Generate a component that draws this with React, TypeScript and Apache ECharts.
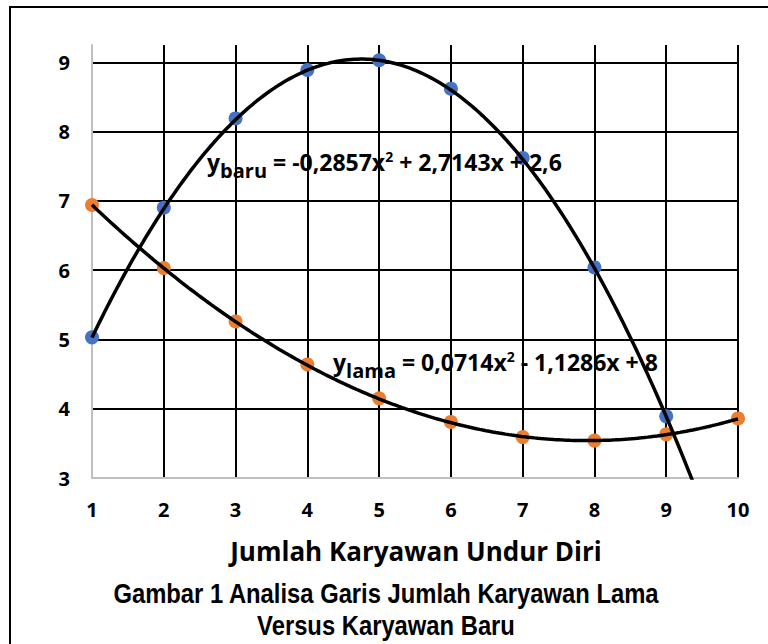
import React, { useEffect, useRef } from "react";
import * as echarts from "echarts";

const xTicks = [1, 2, 3, 4, 5, 6, 7, 8, 9, 10];
const yTicks = [3, 4, 5, 6, 7, 8, 9];
const baruValues = [5.03, 6.9, 8.19, 8.89, 9.03, 8.62, 7.62, 6.04, 3.89];
const lamaValues = [6.94, 6.03, 5.26, 4.64, 4.15, 3.81, 3.59, 3.54, 3.63, 3.86];
// trendline coefficients [a, b, c] for y = a x^2 + b x + c (as printed on the chart)
const baruCoef = [-0.2857, 2.7143, 2.6];
const lamaCoef = [0.0714, -1.1286, 8];
const xAxisTitle = "Jumlah Karyawan Undur Diri";
const captionLines = ["Gambar 1 Analisa Garis Jumlah Karyawan Lama", "Versus Karyawan Baru"];

const BLUE = "#4472C4";
const ORANGE = "#ED7D31";
const FONT = "'Open Sans', Lato, sans-serif";
const CAPTION_FONT = "'Liberation Sans', Arial, sans-serif";

function trend(coef: number[], from: number, to: number) {
  const pts: number[][] = [];
  const steps = 200;
  for (let i = 0; i <= steps; i++) {
    const x = from + ((to - from) * i) / steps;
    pts.push([x, coef[0] * x * x + coef[1] * x + coef[2]]);
  }
  return pts;
}

export default function App() {
  const ref = useRef<HTMLDivElement>(null);
  useEffect(() => {
    if (!ref.current) return;
    const chart = echarts.init(ref.current, null, { renderer: "svg" });
    const eqRich = {
      m: { fontFamily: FONT, fontWeight: "bold", fontSize: 23, color: "#000", lineHeight: 36, verticalAlign: "middle" },
      sub: { fontFamily: FONT, fontWeight: "bold", fontSize: 20, color: "#000", verticalAlign: "bottom" },
      sup: { fontFamily: FONT, fontWeight: "bold", fontSize: 14, color: "#000", verticalAlign: "top", padding: [5, 0, 0, 0] },
    };
    chart.setOption({
      animation: false,
      grid: { left: 92, right: 30, top: 45, bottom: 166, containLabel: false },
      xAxis: {
        type: "value",
        min: xTicks[0],
        max: xTicks[xTicks.length - 1],
        interval: 1,
        axisLine: { show: true, lineStyle: { color: "#bfbfbf", width: 2 } },
        axisTick: { show: false },
        axisLabel: { fontFamily: FONT, fontWeight: "bold", fontSize: 20, color: "#000", margin: 21 },
        splitLine: { show: true, showMinLine: false, lineStyle: { color: "#000", width: 2 } },
      },
      yAxis: {
        type: "value",
        min: yTicks[0],
        max: 9.25,
        interval: 1,
        axisLine: { show: true, lineStyle: { color: "#bfbfbf", width: 2 } },
        axisTick: { show: false },
        axisLabel: {
          fontFamily: FONT,
          fontWeight: "bold",
          fontSize: 20,
          color: "#000",
          margin: 22,
          showMaxLabel: false,
          formatter: (v: number) => (yTicks.includes(v) ? String(v) : ""),
        },
        splitLine: { show: true, showMinLine: false, showMaxLine: false, lineStyle: { color: "#000", width: 2 } },
      },
      series: [
        {
          name: "Baru",
          type: "scatter",
          data: baruValues.map((v, i) => [xTicks[i], v]),
          symbol: "circle",
          symbolSize: 14,
          itemStyle: { color: BLUE, opacity: 1 },
          z: 2,
        },
        {
          name: "Lama",
          type: "scatter",
          data: lamaValues.map((v, i) => [xTicks[i], v]),
          symbol: "circle",
          symbolSize: 14,
          itemStyle: { color: ORANGE, opacity: 1 },
          z: 2,
        },
        {
          name: "Trend Baru",
          type: "line",
          data: trend(baruCoef, xTicks[0], 9.5),
          showSymbol: false,
          symbol: "none",
          lineStyle: { color: "#000", width: 3.5 },
          clip: true,
          z: 3,
        },
        {
          name: "Trend Lama",
          type: "line",
          data: trend(lamaCoef, xTicks[0], xTicks[xTicks.length - 1]),
          showSymbol: false,
          symbol: "none",
          lineStyle: { color: "#000", width: 3.5 },
          clip: true,
          z: 3,
        },
      ],
      graphic: [
        {
          type: "rect",
          shape: { x: 10, y: 7, width: 820, height: 720 },
          style: { fill: "none", stroke: "#000", lineWidth: 2 },
          silent: true,
        },
        {
          type: "text",
          x: 207,
          y: 144,
          z: 10,
          style: {
            text: "{m|y}{sub|baru}{m| = -0,2857x}{sup|2}{m| + 2,7143x + 2,6}",
            rich: eqRich,
          },
        },
        {
          type: "text",
          x: 333,
          y: 344,
          z: 10,
          style: {
            text: "{m|y}{sub|lama}{m| = 0,0714x}{sup|2}{m| - 1,1286x + 8}",
            rich: eqRich,
          },
        },
        {
          type: "text",
          x: 416,
          y: 551,
          style: {
            text: xAxisTitle,
            fontFamily: FONT,
            fontWeight: "bold",
            fontSize: 26,
            fill: "#000",
            align: "center",
            verticalAlign: "middle",
          },
        },
        {
          type: "text",
          x: 386,
          y: 593,
          scaleX: 0.85,
          style: {
            text: captionLines[0],
            fontFamily: CAPTION_FONT,
            fontWeight: "bold",
            fontSize: 28,
            fill: "#000",
            align: "center",
            verticalAlign: "middle",
          },
        },
        {
          type: "text",
          x: 386,
          y: 625,
          scaleX: 0.85,
          style: {
            text: captionLines[1],
            fontFamily: CAPTION_FONT,
            fontWeight: "bold",
            fontSize: 28,
            fill: "#000",
            align: "center",
            verticalAlign: "middle",
          },
        },
      ],
    });
    return () => chart.dispose();
  }, []);
  return (
    <div
      ref={ref}
      style={{ position: "fixed", left: 0, top: 0, width: 768, height: 644, background: "#fff" }}
    />
  );
}
